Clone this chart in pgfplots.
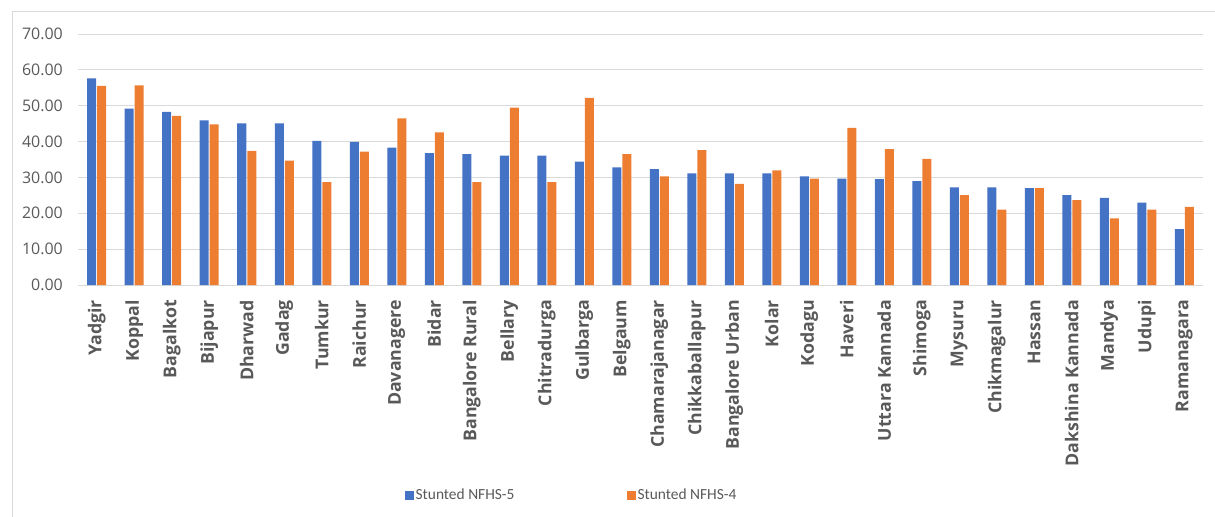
\documentclass[border=0pt]{standalone}
\usepackage{pgfplots}
\pgfplotsset{compat=1.18}
\usepackage{pgfplotstable}
\usepackage{fontspec}
\setmainfont{Carlito}
\newfontfamily\labfont{Open Sans}

\definecolor{xblue}{HTML}{4472C4}
\definecolor{xorange}{HTML}{ED7D31}
\definecolor{gridc}{HTML}{D9D9D9}
\definecolor{txt}{HTML}{595959}

% stunting (%) by district, NFHS-5 vs NFHS-4
\pgfplotstableread[col sep=comma]{
idx,district,nfhs5,nfhs4
0,Yadgir,57.6,55.5
1,Koppal,49.2,55.7
2,Bagalkot,48.3,47.2
3,Bijapur,45.9,44.8
4,Dharwad,45.1,37.4
5,Gadag,45.1,34.7
6,Tumkur,40.2,28.7
7,Raichur,39.9,37.2
8,Davanagere,38.3,46.5
9,Bidar,36.8,42.6
10,Bangalore Rural,36.5,28.7
11,Bellary,36.1,49.5
12,Chitradurga,36.1,28.7
13,Gulbarga,34.4,52.2
14,Belgaum,32.8,36.5
15,Chamarajanagar,32.3,30.3
16,Chikkaballapur,31.1,37.6
17,Bangalore Urban,31.1,28.2
18,Kolar,31.1,32.0
19,Kodagu,30.3,29.7
20,Haveri,29.7,43.8
21,Uttara Kannada,29.5,37.9
22,Shimoga,29.0,35.2
23,Mysuru,27.2,25.1
24,Chikmagalur,27.2,21.0
25,Hassan,27.0,27.0
26,Dakshina Kannada,25.1,23.7
27,Mandya,24.3,18.6
28,Udupi,23.0,21.0
29,Ramanagara,15.6,21.8
}\stunted

\begin{document}
\begin{tikzpicture}
\useasboundingbox (-78bp,-232bp) rectangle (1137bp,285bp);
\draw[gridc, line width=1bp] (-65bp,-260bp) rectangle (1150bp,273bp);
\begin{axis}[
    scale only axis,
    width=1125bp, height=251bp,
    ybar=1bp, bar width=9bp,
    xmin=-0.5, xmax=29.5,
    ymin=0, ymax=70,
    ytick={0,10,...,70},
    xtick=data,
    xticklabels from table={\stunted}{district},
    ymajorgrids,
    grid style={gridc, line width=1bp},
    axis line style={draw=none},
    major tick length=0pt,
    tick label style={text=txt},
    yticklabel style={font=\labfont\fontsize{16}{16}\selectfont, inner sep=0pt, anchor=east, xshift=-15bp,
        /pgf/number format/.cd, fixed, fixed zerofill, precision=2, assume math mode=true},
    xticklabel style={font=\labfont\bfseries\fontsize{17.8}{17.8}\selectfont,
        yshift=-15bp, rotate=90, anchor=east, inner sep=0pt},
    legend columns=2,
    legend style={at={(0.4387,-0.8367)}, anchor=center, draw=none, fill=none,
        font=\fontsize{15.5}{15.5}\selectfont, text=txt,
        /tikz/every even column/.append style={column sep=110bp}},
    legend image code/.code={\fill[#1, draw=none] (0bp,-4.5bp) rectangle (9bp,4.5bp);},
]
\addplot[fill=xblue, draw=none] table[x=idx, y=nfhs5, col sep=comma] {\stunted};
\addplot[fill=xorange, draw=none] table[x=idx, y=nfhs4, col sep=comma] {\stunted};
\legend{Stunted NFHS-5, Stunted NFHS-4}
\end{axis}
\end{tikzpicture}
\end{document}
